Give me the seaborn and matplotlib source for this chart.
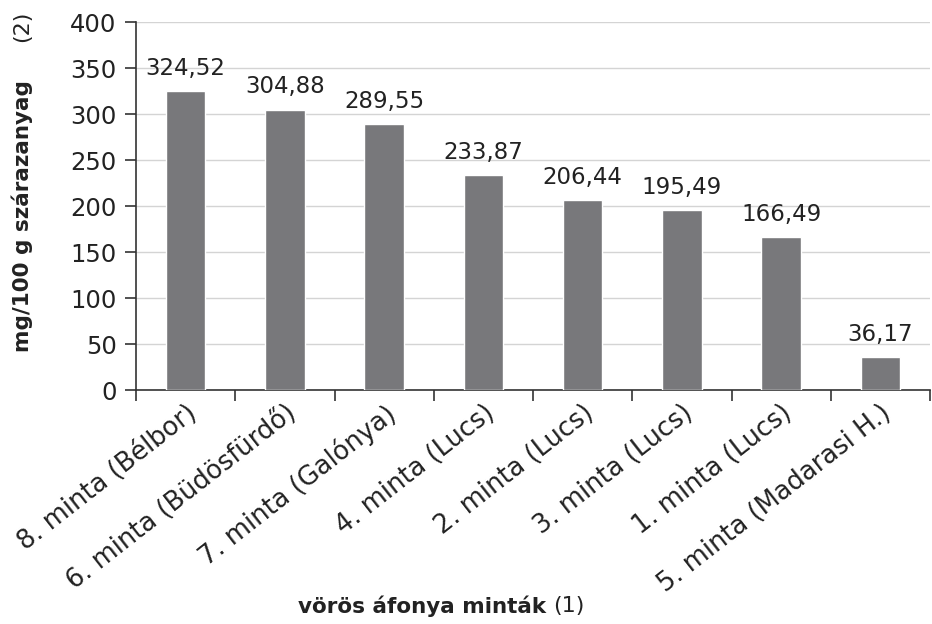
import matplotlib
matplotlib.use("Agg")
import matplotlib.pyplot as plt
import numpy as np
import pandas as pd
import seaborn as sns

categories = [
    "8. minta (Bélbor)",
    "6. minta (Büdösfürdő)",
    "7. minta (Galónya)",
    "4. minta (Lucs)",
    "2. minta (Lucs)",
    "3. minta (Lucs)",
    "1. minta (Lucs)",
    "5. minta (Madarasi H.)",
]
values = [324.52, 304.88, 289.55, 233.87, 206.44, 195.49, 166.49, 36.17]
y_ticks = [0, 50, 100, 150, 200, 250, 300, 350, 400]

sns.set_theme(style="white")
plt.rcParams["font.family"] = ["DejaVu Sans"]

df = pd.DataFrame({"sample": categories, "value": values})

fig = plt.figure(figsize=(9.32, 6.24), dpi=100)
ax = fig.add_axes([136 / 932, 1 - 390 / 624, 794 / 932, 368 / 624])

sns.barplot(data=df, x="sample", y="value", color="#78787b", saturation=1,
            width=0.4, ax=ax, zorder=3)

ax.set_ylim(0, 400)
ax.set_xlim(-0.5, len(categories) - 0.5)
ax.set_yticks(y_ticks)
ax.yaxis.grid(True, color="#d4d4d4", linewidth=1.0, zorder=0)
ax.set_axisbelow(True)

for s in ["top", "right"]:
    ax.spines[s].set_visible(False)
for s in ["left", "bottom"]:
    ax.spines[s].set_color("#333333")
    ax.spines[s].set_linewidth(1.2)

ax.set_xticks(np.arange(-0.5, len(categories), 1), minor=True)
ax.tick_params(axis="x", which="major", length=0, pad=7)
ax.tick_params(axis="x", which="minor", length=8, width=1.2, color="#333333",
               direction="out", bottom=True)
ax.tick_params(axis="y", length=8, width=1.2, color="#333333", direction="out",
               left=True, labelsize=17.5, labelcolor="#222222", pad=6)
ax.set_xticks(range(len(categories)))
ax.set_xticklabels(categories, rotation=38, ha="right", rotation_mode="anchor",
                   fontsize=18.5, color="#222222")
for lbl in ax.get_xticklabels():
    lbl.set_x(lbl.get_position()[0] + 0.06)

labels = [f"{v:.2f}".replace(".", ",") for v in values]
ax.bar_label(ax.containers[0], labels=labels, padding=8, fontsize=16.5,
             color="#222222")

ax.set_xlabel("")
ax.set_ylabel("")

fig.text(546 / 932, 1 - 606 / 624, "vörös áfonya minták", ha="right",
         va="center", fontsize=15.5, fontweight="bold", color="#222222")
fig.text(553 / 932, 1 - 606 / 624, "(1)", ha="left", va="center",
         fontsize=16, color="#222222")
fig.text(22 / 932, 1 - 80 / 624, "mg/100 g szárazanyag", rotation=90,
         ha="center", va="top", fontsize=15.5, fontweight="bold", color="#222222")
fig.text(22 / 932, 1 - 42 / 624, "(2)", rotation=90, ha="center",
         va="bottom", fontsize=16, color="#222222")

fig.savefig("out.png", dpi=100)
